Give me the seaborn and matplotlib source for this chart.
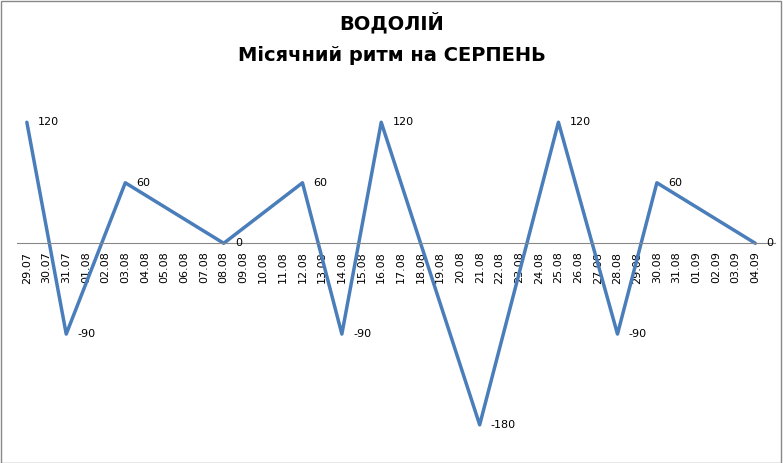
import matplotlib
matplotlib.use("Agg")
import matplotlib.pyplot as plt
import seaborn as sns
import pandas as pd

dates = ["29.07", "30.07", "31.07", "01.08", "02.08", "03.08", "04.08", "05.08", "06.08", "07.08",
         "08.08", "09.08", "10.08", "11.08", "12.08", "13.08", "14.08", "15.08", "16.08", "17.08",
         "18.08", "19.08", "20.08", "21.08", "22.08", "23.08", "24.08", "25.08", "26.08", "27.08",
         "28.08", "29.08", "30.08", "31.08", "01.09", "02.09", "03.09", "04.09"]
point_dates = ["29.07", "31.07", "03.08", "08.08", "12.08", "14.08", "16.08", "21.08",
               "25.08", "28.08", "30.08", "04.09"]
point_values = [120, -90, 60, 0, 60, -90, 120, -180, 120, -90, 60, 0]

df = pd.DataFrame({"pos": [dates.index(d) for d in point_dates], "value": point_values})

sns.set_style("white")
fig = plt.figure(figsize=(7.83, 4.63), dpi=100)
ax = fig.add_axes([17 / 783, 18 / 463, 758 / 783, 353 / 463])
sns.lineplot(data=df, x="pos", y="value", ax=ax, color="#4a7ebb", linewidth=2.5)

ax.set_xlim(-0.5, 38.0)
ax.set_ylim(-200, 150)
ax.set_yticks([])
ax.set_xlabel("")
ax.set_ylabel("")
for s in ["top", "right", "left"]:
    ax.spines[s].set_visible(False)
ax.spines["bottom"].set_position(("data", 0))
ax.spines["bottom"].set_color("#888888")
ax.set_xticks(range(len(dates)))
ax.set_xticklabels(dates, fontsize=8, color="black")
ax.tick_params(axis="x", length=4, color="#888888", pad=2, labelrotation=90)

for x, y in zip(df["pos"], df["value"]):
    ax.annotate(str(y), (x, y), xytext=(8, 0), textcoords="offset points",
                fontsize=8, va="center", ha="left", color="black")

fig.text(0.5, 0.952, "ВОДОЛІЙ", ha="center", va="center", fontsize=14, fontweight="bold", color="black")
fig.text(0.5, 0.88, "Місячний ритм на СЕРПЕНЬ", ha="center", va="center", fontsize=14, fontweight="bold",
         color="black")

fig.patches.append(plt.Rectangle((0.001, 0.001), 0.997, 0.997, transform=fig.transFigure,
                                 fill=False, edgecolor="#888888", linewidth=1))
fig.savefig("out.png", dpi=100)
